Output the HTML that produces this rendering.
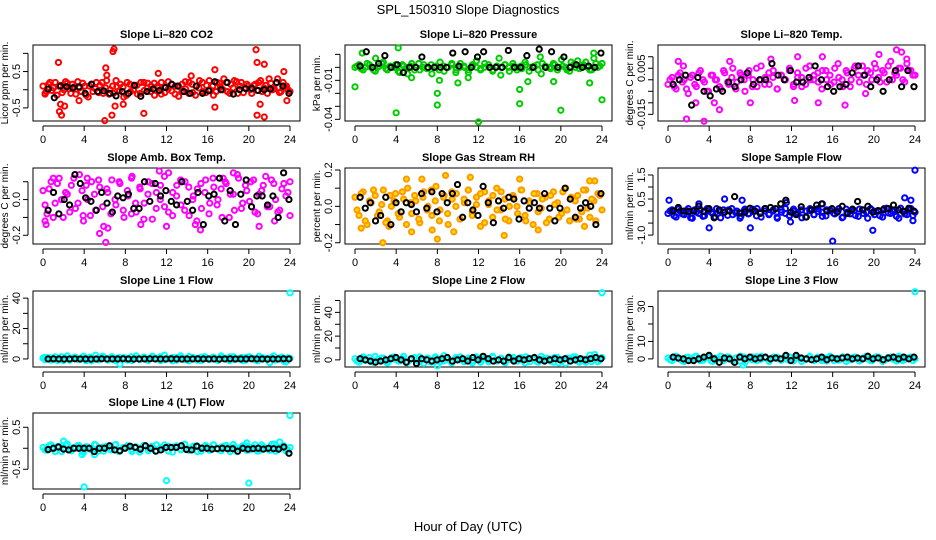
<!DOCTYPE html>
<html><head><meta charset="utf-8">
<style>
html,body{margin:0;padding:0;background:#fff;}
svg{display:block;font-family:"Liberation Sans",sans-serif;}
</style></head>
<body>
<svg id="chart" width="936" height="540" viewBox="0 0 936 540">
<text x="468" y="14" text-anchor="middle" font-size="13">SPL_150310  Slope Diagnostics</text>
<text x="468" y="531" text-anchor="middle" font-size="13">Hour of Day (UTC)</text>
<g id="panels"></g>
</svg>
<script>
// ---- data ----
const xTicks = [0,4,8,12,16,20,24];
const co2Col = [0.1,-0.05,0.2,0.05,-0.15,0.12,0.0,0.18,-0.1,0.08,0.22,-0.05,0.1,-0.2,0.15,0.03,-0.08,0.2,0.05,-0.12,0.1,0.25,-0.02,0.08,-0.15,0.15,0.0,0.12,-0.1,0.2,0.05,-0.05,0.18,0.1,-0.12,0.08,0.22,-0.03,0.1,-0.18,0.15,0.02,0.2,-0.08,0.1,0.25,-0.05,0.12,0.0,-0.15,0.2,0.08,0.3,-0.05,0.15,0.25,-0.1,0.2,0.05,0.1,-0.1,0.15,0.2,-0.05,0.12,0.3,0.0,0.18,-0.08,0.2,0.1,-0.05];
const co2ColB = [-0.1,0.15,-0.02,0.2,0.1,-0.08,0.22,0.02,0.15,-0.12,0.05,0.18,-0.15,0.1,-0.05,0.2,0.12,-0.1,0.25,0.0,-0.1,0.08,0.15,-0.2,0.2,-0.05,0.12,-0.12,0.2,-0.02,0.18,0.1,-0.15,0.05,0.2,-0.08,0.02,0.15,-0.12,0.1,-0.05,0.22,-0.1,0.15,-0.15,0.05,0.2,-0.08,0.25,0.1,-0.05,0.18,0.0,0.2,-0.1,0.05,0.22,0.1,-0.08,0.15,0.0,0.12,-0.02,0.25,0.05,-0.1,0.18,0.02,0.3,-0.05,0.1,0.0];
const co2Out = [[1.5,0.75],[1.6,-0.6],[1.8,-0.7],[1.7,-0.4],[2.1,-0.45],[6.0,-0.85],[6.1,0.6],[6.8,1.05],[6.9,1.12],[6.7,-0.7],[7.0,-0.45],[7.8,-0.4],[9.8,-0.65],[16.7,0.55],[16.7,-0.48],[20.7,1.1],[20.8,0.75],[20.8,-0.7],[21.5,-0.75],[21.5,0.7],[21.1,-0.4],[23.4,0.5],[23.7,-0.3],[3.5,-0.3],[11.2,0.45],[14.4,0.38],[0.2,-0.12],[6.2,0.4]];
const co2Blk = [0.02,-0.22,0.1,0.08,0.05,0.08,-0.1,0.15,-0.05,-0.03,-0.1,-0.17,-0.05,-0.1,0.12,-0.18,-0.05,0.02,-0.02,0.06,0.15,0.1,-0.05,-0.1,0.1,-0.1,-0.03,0.22,0.0,0.2,-0.12,0.0,0.03,0.04,-0.02,0.0,0.02,0.2,0.1,-0.1];
const presCol = [0.0,0.002,-0.002,0.003,0.0,-0.003,0.001,0.004,-0.002,0.0,0.002,-0.004,0.001,-0.005,0.003,0.0,-0.002,0.002,0.0,-0.005,0.001,0.004,-0.003,0.0,0.002,-0.002,0.003,0.0,-0.004,0.001,0.005,-0.002,0.0,0.002,-0.003,0.001,-0.006,0.002,0.0,0.003,-0.002,0.001,0.004,-0.003,0.0,0.002,-0.005,0.001,0.0,0.003,-0.002,0.006,0.0,-0.003,0.002,0.005,0.0,0.004,-0.002,0.007,0.0,0.003];
const presColB = [0.001,-0.001,0.0,0.002,-0.002,0.0,0.003,-0.001,0.001,0.0,-0.003,0.002,0.0,0.001,-0.002,0.003,0.0,-0.001,0.002,0.0,-0.002,0.001,0.0,0.003,-0.004,0.0,0.001,-0.002,0.002,0.0,-0.001,0.003,0.0,-0.002,0.001,0.0,0.002,-0.003,0.001,0.0,-0.001,0.002,0.0,0.001,-0.002,0.003,0.0,-0.001,0.002,0.0,0.001,-0.002,0.004,0.0,-0.001,0.002,0.0,-0.002,0.003,0.001];
const presOut = [[0,-0.015],[0.7,0.011],[4.2,0.015],[4.0,-0.035],[8.0,-0.02],[8.0,-0.029],[12,-0.042],[16,-0.017],[16,-0.028],[16.8,-0.011],[20,-0.033],[22.8,-0.012],[24,-0.025],[19.3,-0.011],[8.2,-0.01],[10,-0.012],[2,0.007],[14,0.007],[18,0.008],[23.2,0.011],[5.5,-0.008],[11,-0.008]];
const presBlk = [0.001,0.012,0.0,0.003,0.009,0.0,0.002,-0.004,0.0,0.0,0.008,0.0,0.0,0.0,0.0,0.011,0.001,0.012,0.0,0.008,0.012,0.0,0.0,0.0,0.013,0.0,0.0,0.009,0.0,0.014,0.0,0.012,0.0,0.008,0.0,0.002,0.0,0.001,0.0,0.011];
const tempCol = [-0.002,0.001,-0.004,0.003,0.0,-0.006,0.002,-0.003,0.004,-0.001,-0.005,0.002,0.0,-0.004,0.003,-0.002,0.005,-0.001,0.002,-0.005,0.004,0.0,-0.003,0.006,0.001,-0.002,0.004,-0.004,0.002,0.0,0.005,-0.003,0.003,0.001,-0.002,0.006,0.0,0.003,-0.004,0.004,0.002,-0.001,0.007,0.0,0.004,-0.003,0.005,0.002,0.006,-0.002,0.003,0.007,0.001,0.004,-0.001,0.008,0.003,0.005,0.0,0.007,0.004,0.002];
const tempColB = [0.0,-0.003,0.002,-0.001,-0.004,0.001,-0.002,0.003,0.0,-0.005,0.002,0.0,-0.003,0.004,-0.001,0.001,-0.004,0.003,0.0,0.002,-0.003,0.005,0.0,-0.002,0.003,0.001,-0.004,0.002,0.0,0.004,-0.002,0.001,-0.003,0.005,0.0,0.002,-0.001,0.004,0.0,-0.002,0.005,0.001,-0.003,0.003,0.0,0.006,-0.001,0.002,0.004,0.0,0.005,-0.001,0.003,0.006,0.0,0.002,0.005,-0.001,0.004,0.002];
const tempOut = [[1.8,-0.017],[3.5,-0.018],[5.0,-0.013],[1.0,0.008],[2.7,-0.01],[1.5,0.006],[4.5,-0.01],[6.0,0.008],[10.0,0.009],[12.6,0.01],[15.0,0.01],[17.2,-0.011],[19.2,-0.006],[22.2,0.013],[22.7,0.012],[20.5,0.011],[23.2,0.009],[12.3,-0.009],[14.6,-0.01],[8.0,-0.01]];
const tempBlk = [-0.002,0.0,0.002,-0.011,0.001,-0.005,-0.007,-0.004,-0.005,-0.001,-0.003,0.0,0.003,-0.002,0.0,0.0,0.007,0.002,0.0,0.004,-0.001,-0.001,0.001,0.006,0.0,-0.003,-0.005,-0.003,-0.002,0.003,0.006,0.002,-0.003,0.0,-0.005,0.0,0.004,-0.003,0.004,-0.003];
const ambCol = [0.05,-0.08,0.1,-0.02,0.12,-0.1,0.03,0.08,-0.05,0.14,-0.12,0.0,0.1,-0.06,0.07,-0.15,0.04,0.11,-0.03,0.09,-0.1,0.02,0.13,-0.07,0.06,-0.02,0.1,-0.11,0.04,0.08,-0.04,0.15,-0.09,0.02,0.11,-0.06,0.07,0.0,-0.12,0.09,0.04,-0.08,0.12,-0.03,0.06,0.1,-0.1,0.03,0.14,-0.05,0.08,-0.01,0.11,-0.08,0.05,0.13,-0.04,0.09,-0.07,0.06,0.02,-0.09];
const ambColB = [-0.03,0.06,-0.1,0.09,0.0,0.04,-0.07,0.12,-0.02,0.05,0.08,-0.09,0.03,0.11,-0.04,0.06,-0.08,0.0,0.1,-0.06,0.05,0.12,-0.02,0.07,-0.11,0.03,0.09,-0.05,0.0,0.13,-0.07,0.04,0.08,-0.03,0.1,-0.09,0.02,0.06,-0.05,0.11,-0.02,0.07,0.0,-0.1,0.09,0.03,-0.06,0.12,-0.02,0.05,0.1,-0.07,0.03,0.08,-0.04,0.11,0.0,-0.06,0.09,0.04];
const ambOut = [[0.2,-0.12],[0.3,-0.14],[1.0,0.12],[5.5,-0.19],[6.1,-0.24],[6.3,-0.16],[9.5,-0.14],[11.3,0.16],[12.0,-0.15],[14.8,-0.14],[15.3,-0.17],[17.5,0.12],[18.5,0.15],[21.0,-0.15],[22.5,-0.12],[24,0.1],[4.3,0.12],[3.9,-0.09],[8.6,-0.08]];
const ambBlk = [-0.06,0.04,-0.08,0.0,-0.03,0.14,0.09,0.01,-0.01,-0.06,0.04,-0.02,-0.07,0.02,0.01,0.03,-0.05,-0.05,0.1,-0.01,0.09,0.02,0.05,-0.01,-0.03,0.1,-0.01,-0.06,0.04,-0.14,0.02,0.03,0.12,-0.12,0.05,-0.14,0.03,0.11,-0.04,0.02,0.02,-0.03,0.02,-0.1,0.15,0.0];
const rhCol = [0.05,-0.05,0.08,-0.1,0.02,0.06,-0.03,0.09,-0.08,0.0,0.07,-0.06,0.04,0.1,-0.04,0.03,-0.09,0.08,0.0,-0.05,0.11,-0.02,0.06,-0.1,0.04,0.07,-0.07,0.02,0.09,-0.03,0.05,-0.11,0.08,0.01,-0.06,0.1,-0.02,0.04,-0.08,0.06,0.0,0.09,-0.05,0.03,-0.1,0.07,-0.01,0.05,-0.07,0.08,0.02,-0.04,0.1,-0.08,0.04,0.06,-0.03,0.09,-0.06,0.03,0.07,-0.02];
const rhColB = [-0.02,0.07,-0.08,0.03,0.09,-0.05,0.01,-0.09,0.06,0.03,-0.04,0.08,-0.1,0.02,0.06,-0.07,0.05,-0.02,0.09,0.03,-0.08,0.05,-0.04,0.08,0.0,-0.07,0.04,0.09,-0.05,0.01,0.07,-0.09,0.03,0.06,-0.02,0.08,-0.07,0.0,0.05,-0.04,0.09,-0.08,0.02,0.07,-0.03,0.04,-0.09,0.06,0.01,-0.06,0.08,-0.02,0.05,0.03,-0.07,0.09,-0.01,0.04,-0.08,0.06];
const rhOut = [[0.6,-0.12],[2.7,-0.2],[3.3,-0.11],[5.0,0.15],[5.5,-0.14],[6.5,0.15],[7.5,-0.13],[8.0,-0.18],[8.8,0.17],[9.6,-0.14],[11.2,0.16],[14.5,-0.16],[16.0,0.15],[17.8,-0.13],[21.5,-0.07],[22.3,-0.11],[22.8,0.14],[23.3,0.14]];
const rhBlk = [0.05,-0.01,0.02,-0.08,-0.05,0.05,-0.1,0.02,-0.03,0.02,0.01,-0.03,0.07,-0.01,0.08,-0.03,0.07,0.02,0.07,0.12,-0.06,0.02,-0.02,-0.05,0.11,0.02,-0.09,0.03,-0.01,0.05,0.04,-0.07,0.03,-0.01,0.02,-0.01,0.07,-0.01,-0.08,-0.01,0.1,0.04,-0.06,-0.01,0.02,0.0,-0.1,0.07];
const flowCol = [-0.1,0.05,-0.25,0.0,-0.15,0.1,-0.3,-0.05,0.05,-0.2,0.0,-0.1,0.1,-0.28,-0.05,0.05,-0.15,0.0,-0.22,0.08,-0.1,-0.02,0.1,-0.25,0.0,-0.12,0.05,-0.3,-0.05,0.1,-0.18,0.0,-0.1,0.05,-0.25,0.02,-0.15,0.1,-0.05,-0.2,0.05,-0.1,0.0,-0.28,0.08,-0.12,0.02,-0.22,0.05,-0.05,0.1,-0.15,0.0,-0.25,0.12,-0.1,0.05,-0.3,0.0,-0.15,0.1,-0.05];
const flowColB = [0.0,-0.2,0.08,-0.12,0.02,-0.28,0.05,-0.1,-0.22,0.1,-0.05,-0.25,0.0,0.05,-0.18,0.1,-0.08,-0.3,0.02,-0.12,0.08,-0.2,-0.05,0.1,-0.15,0.0,-0.25,0.05,-0.1,-0.2,0.08,-0.05,-0.28,0.0,0.1,-0.15,-0.02,-0.22,0.05,0.0,-0.12,0.1,-0.25,-0.05,0.02,-0.18,0.08,-0.1,-0.3,0.05,-0.02,-0.2,0.1,-0.08,0.0,-0.22,0.12,-0.12,0.05,-0.18];
const flowOut = [[0.1,0.45],[4.0,-0.7],[5.5,0.5],[7.2,0.45],[8.0,-0.7],[11.9,-0.45],[16.0,-1.25],[19.9,-0.8],[23.0,0.55],[23.8,-0.4],[24,1.7],[23.6,0.45],[11.5,0.35],[3.0,0.3],[15.0,0.3]];
const flowBlk = [0.0,0.15,0.0,-0.02,0.0,0.2,-0.02,0.1,-0.28,0.05,-0.05,0.0,0.6,-0.08,-0.05,0.12,0.0,-0.1,0.1,0.15,0.1,0.3,0.45,-0.05,-0.15,0.18,-0.25,0.05,0.25,0.3,0.0,0.1,-0.05,0.2,-0.1,0.08,0.4,0.05,0.2,-0.05,0.02,0.05,0.1,0.25,0.05,-0.02,0.12,0.0];
const l1Col = [0.5,1.0,-0.8,1.5,0.2,-1.0,2.0,0.0,1.2,-0.5,1.8,0.5,-1.2,2.5,0.0,1.0,-0.8,1.5,0.3,-3.5,1.0,0.5,-1.0,2.0,0.0,1.2,-0.5,1.8,0.5,-1.0,2.5,0.0,1.0,-0.8,2.0,0.3,-1.2,1.0,0.5,-1.0,1.5,0.0,1.2,-0.5,2.0,0.5,-1.0,1.5,0.0,1.0,-0.8,1.5,0.3,-1.2,1.0,0.5,-2.5,2.0,0.0,1.2,-2.0,0.5];
const l1ColB = [-0.5,0.8,0.0,-1.0,1.5,0.2,-0.8,1.0,-0.3,0.5,-1.2,1.2,0.0,-0.6,1.8,-0.2,0.6,-1.0,1.0,0.0,-0.8,1.5,0.3,-0.5,1.2,-1.0,0.4,0.0,1.5,-0.6,0.2,-1.2,1.0,0.5,-0.4,1.6,0.0,-0.8,1.2,0.3,-0.5,1.0,-1.0,0.6,0.0,1.4,-0.4,0.2,-1.0,1.2,0.5,-0.6,1.8,0.0,-0.4,1.0,-0.8,0.6,-1.5,0.8];
const l1Out = [[24,43.5],[0.1,1.0],[0.3,0.5]];
const l1Blk = [0.0,0.1,0.0,-0.1,0.0,0.1,0.0,0.0,-0.1,0.0,0.1,0.0,0.0,0.0,0.1,0.0,-0.1,0.0,0.0,0.1,0.0,0.0,0.0,0.1,0.0,-0.1,0.0,0.0,0.1,0.0,0.0,0.0,-0.1,0.0,0.1,0.0,0.0,0.0,0.1,0.0,0.0,-0.1,0.0,0.0,0.1,0.0];
const l2Col = [1.0,-2.0,2.5,0.0,-1.5,3.0,-0.5,1.5,-2.5,2.0,0.5,-1.0,3.0,-2.0,1.0,0.0,2.5,-3.0,1.5,-0.5,2.0,-1.5,3.5,0.0,-2.0,1.0,2.5,-1.0,0.5,-2.5,2.0,0.0,1.5,-1.5,3.0,-0.5,1.0,-2.0,2.5,0.0,-1.0,2.0,-2.5,1.5,0.5,-1.5,3.0,-0.5,1.0,-2.0,2.0,0.0,-3.0,1.5,2.5,-1.0,0.5,-2.0,4.0,0.0,-1.5,2.0];
const l2ColB = [-1.0,1.5,-0.5,2.0,-2.0,0.5,1.5,-1.5,0.0,2.5,-1.0,1.0,-2.5,0.5,2.0,-1.5,0.0,1.5,-2.0,2.5,0.5,-1.0,1.0,-2.5,2.0,0.0,-1.5,1.5,-0.5,2.5,-2.0,1.0,0.0,2.0,-1.0,1.5,-2.5,0.5,2.0,-1.0,0.0,2.5,-1.5,1.0,-2.0,0.5,1.5,-1.0,2.0,-2.5,0.0,1.5,-1.0,2.5,-2.0,0.5,1.0,-1.5,2.0,0.0];
const l2Out = [[24,56.5],[8.0,-5.0],[23.3,4.5]];
const l2Blk = [1.0,0.0,-1.0,-2.0,-1.0,0.0,1.0,2.0,0.0,-2.0,1.0,-3.0,1.0,0.0,-1.0,0.0,1.0,2.0,-1.0,0.0,1.0,-1.0,2.0,0.0,3.0,1.0,-1.0,0.0,-1.0,2.0,-1.0,1.0,0.0,1.0,2.0,0.0,-1.0,0.0,1.0,0.0,1.0,-1.0,0.0,1.0,0.0,1.0,2.0,1.0];
const l3Col = [0.5,-1.0,1.5,0.0,-1.5,1.0,-0.5,1.5,-1.0,0.5,1.0,-1.5,0.0,1.5,-0.5,1.0,-1.0,0.5,1.5,-2.0,0.0,1.0,-1.0,1.5,0.5,-1.5,1.0,0.0,-0.5,1.5,-1.0,0.5,1.0,-1.5,0.0,1.5,-0.5,1.0,-1.0,0.5,1.5,-1.0,0.0,1.0,-1.5,0.5,1.0,-0.5,0.0,1.5,-1.0,0.5,1.0,-1.5,0.0,1.0,-0.5,1.5,-1.0,0.5,1.0,0.0];
const l3ColB = [-0.5,1.0,0.0,-1.2,0.8,-0.3,1.2,0.0,-0.8,1.0,-1.2,0.5,0.0,-1.0,1.2,-0.5,0.6,-1.4,1.0,0.0,-0.6,1.2,-0.3,0.8,-1.0,0.4,1.0,-0.8,0.0,1.2,-1.2,0.6,0.0,-0.5,1.0,-1.0,0.8,0.0,-1.2,1.0,0.3,-0.8,1.2,0.0,-0.5,1.0,-1.2,0.6,0.0,-1.0,1.2,0.4,-0.8,0.8,0.0,-1.2,1.0,-0.4,0.5,-1.0];
const l3Out = [[24,38.5],[7.3,-3.5],[4.0,2.0]];
const l3Blk = [1.0,0.5,0.0,-1.0,-1.0,0.0,1.0,2.0,0.0,-2.0,0.5,0.0,-2.0,1.0,0.0,1.0,0.0,0.5,1.0,0.0,0.5,0.0,2.0,-1.0,2.0,0.5,0.0,-0.5,0.0,1.0,-0.5,0.5,0.0,0.5,1.0,0.0,0.5,0.0,1.5,0.0,0.5,-0.5,0.5,1.0,0.0,1.0,0.0,1.0];
const l4Col = [0.02,-0.05,0.08,-0.08,0.04,-0.02,0.1,-0.06,0.0,0.06,-0.1,0.03,-0.04,0.08,0.0,-0.07,0.05,-0.02,0.09,-0.05,0.01,0.06,-0.08,0.03,-0.03,0.07,-0.06,0.02,0.08,-0.04,0.0,0.05,-0.09,0.04,-0.02,0.1,-0.05,0.02,0.06,-0.07,0.03,-0.03,0.08,0.0,-0.06,0.05,-0.02,0.09,-0.08,0.03,0.06,-0.04,0.02,-0.07,0.08,0.0,-0.05,0.1,-0.03,0.04,-0.06,0.02];
const l4ColB = [-0.04,0.06,-0.02,0.04,-0.08,0.08,-0.03,0.02,0.07,-0.06,0.04,-0.01,0.09,-0.07,0.03,0.05,-0.04,0.08,-0.08,0.02,0.06,-0.03,0.04,-0.09,0.07,0.0,0.05,-0.06,0.02,0.08,-0.07,0.03,0.06,-0.04,0.09,-0.02,0.05,-0.08,0.01,0.07,-0.05,0.08,-0.02,0.04,0.07,-0.08,0.03,0.0,0.06,-0.05,0.02,0.08,-0.06,0.04,-0.02,0.09,-0.07,0.03,0.06,-0.04];
const l4Out = [[4.0,-0.92],[12.0,-0.77],[20.0,-0.83],[24,0.78],[2.0,0.17],[3.8,-0.15],[5.0,-0.15],[23.0,0.15],[19.8,0.13]];
const l4Blk = [-0.03,0.0,0.03,-0.02,-0.04,0.0,0.0,0.0,0.0,-0.08,0.0,0.0,0.06,-0.04,-0.06,0.0,0.05,0.02,-0.02,0.06,0.0,-0.07,-0.04,0.02,0.02,0.02,0.06,-0.03,-0.04,0.05,0.0,0.0,-0.02,-0.01,0.0,-0.01,-0.01,-0.07,0.0,-0.02,-0.01,0.0,-0.02,0.0,-0.01,-0.02,0.03,-0.12];

const L=[33,345,658], T=[45,168,291,413], W=267, H=76;
const panels = [
 {title:"Slope Li\u2013820 CO2", ylab:"Licor ppm per min.", col:"#ff0000", c:0,r:0, dom:[-0.86,1.23], ticks:[-0.5,0,0.5,1], labs:[-0.5,0.5], lf:v=>String(v), data:co2Col, dataB:co2ColB, out:co2Out, blk:co2Blk},
 {title:"Slope Li\u2013820 Pressure", ylab:"kPa per min.", col:"#00cc00", c:1,r:0, dom:[-0.0413,0.0172], ticks:[0.01,0,-0.01,-0.02,-0.03,-0.04], labs:[-0.01,-0.04], lf:v=>v.toFixed(2), data:presCol, dataB:presColB, out:presOut, blk:presBlk},
 {title:"Slope Li\u2013820 Temp.", ylab:"degrees C per min.", col:"#ff00ff", c:2,r:0, dom:[-0.0179,0.0151], ticks:[0.01,0.005,0,-0.005,-0.01,-0.015], labs:[0.005,-0.015], lf:v=>v.toFixed(3), data:tempCol, dataB:tempColB, out:tempOut, blk:tempBlk},
 {title:"Slope Amb. Box Temp.", ylab:"degrees C per min.", col:"#ff00ff", c:0,r:1, dom:[-0.249,0.177], ticks:[0.1,0,-0.1,-0.2], labs:[0,-0.2], lf:v=>v.toFixed(1), data:ambCol, dataB:ambColB, out:ambOut, blk:ambBlk},
 {title:"Slope Gas Stream RH", ylab:"percent per min.", col:"#ff9900", fill:"#ffdd00", c:1,r:1, dom:[-0.207,0.211], ticks:[0.2,0.1,0,-0.1,-0.2], labs:[0.2,0,-0.2], lf:v=>v.toFixed(1), data:rhCol, dataB:rhColB, out:rhOut, blk:rhBlk},
 {title:"Slope Sample Flow", ylab:"ml/min per min.", col:"#0000ff", c:2,r:1, dom:[-1.37,1.79], ticks:[1.5,1,0.5,0,-0.5,-1], labs:[1.5,0.5,-1], lf:v=>v.toFixed(1), data:flowCol, dataB:flowColB, out:flowOut, blk:flowBlk},
 {title:"Slope Line 1 Flow", ylab:"ml/min per min.", col:"#00ffff", c:0,r:2, dom:[-5.3,44.7], ticks:[40,30,20,10,0], labs:[40,20,0], lf:v=>String(v), data:l1Col, dataB:l1ColB, out:l1Out, blk:l1Blk},
 {title:"Slope Line 2 Flow", ylab:"ml/min per min.", col:"#00ffff", c:1,r:2, dom:[-6,58], ticks:[50,40,30,20,10,0], labs:[40,20,0], lf:v=>String(v), data:l2Col, dataB:l2ColB, out:l2Out, blk:l2Blk},
 {title:"Slope Line 3 Flow", ylab:"ml/min per min.", col:"#00ffff", c:2,r:2, dom:[-4.65,38.9], ticks:[30,20,10,0], labs:[30,10,0], lf:v=>String(v), data:l3Col, dataB:l3ColB, out:l3Out, blk:l3Blk},
 {title:"Slope Line 4 (LT) Flow", ylab:"ml/min per min.", col:"#00ffff", c:0,r:3, dom:[-0.97,0.84], ticks:[0.5,0,-0.5], labs:[0.5,-0.5], lf:v=>v.toFixed(1), data:l4Col, dataB:l4ColB, out:l4Out, blk:l4Blk}
];
const NS="http://www.w3.org/2000/svg";
const root=document.getElementById('panels');
function mk(tag,attrs,parent){const e=document.createElementNS(NS,tag);for(const k in attrs)e.setAttribute(k,attrs[k]);parent.appendChild(e);return e;}
panels.forEach((p,i)=>{
  const x0=L[p.c], y0=T[p.r], bot=y0+H;
  const sx=h=>x0+10+h/24*(W-20);
  const sy=v=>bot-(v-p.dom[0])/(p.dom[1]-p.dom[0])*H;
  const g=mk('g',{},root);
  
  
  const t=mk('text',{x:x0+W/2,y:y0-7,'text-anchor':'middle','font-size':11,'font-weight':'bold'},g);
  t.textContent=p.title;
  
  
  const box=mk('rect',{x:x0,y:y0,width:W,height:H,fill:'none',stroke:'#000','stroke-width':1},g);
  
  
  const xa=mk('g',{},g);
  
  
  mk('line',{x1:sx(0),x2:sx(24),y1:bot+5,y2:bot+5,stroke:'#000'},xa);
  xTicks.forEach(h=>{
    mk('line',{x1:sx(h),x2:sx(h),y1:bot+5,y2:bot+10,stroke:'#000'},xa);
    const tl=mk('text',{x:sx(h),y:bot+22,'text-anchor':'middle','font-size':11},xa);
    tl.textContent=h;
    
    
  });
  const ya=mk('g',{},g);
  
  
  const tv=p.ticks.map(sy);
  mk('line',{x1:x0-5,x2:x0-5,y1:Math.min(...tv),y2:Math.max(...tv),stroke:'#000'},ya);
  p.ticks.forEach(v=>mk('line',{x1:x0-10,x2:x0-5,y1:sy(v),y2:sy(v),stroke:'#000'},ya));
  p.labs.forEach(v=>{
    const tl=mk('text',{x:0,y:0,'text-anchor':'middle','font-size':11,transform:`translate(${x0-13},${sy(v)}) rotate(-90)`},ya);
    tl.textContent=p.lf(v);
    
    
  });
  const yt=mk('text',{x:0,y:0,'text-anchor':'middle','font-size':10,transform:`translate(${x0-25},${y0+H/2}) rotate(-90)`},g);
  yt.textContent=p.ylab;
  
  
  const pts=mk('g',{fill:p.fill||'none',stroke:p.col,'stroke-width':2},g);
  
  
  const n=p.data.length;
  p.data.forEach((v,k)=>{
    const c=mk('circle',{cx:sx(k*24/(n-1)),cy:sy(v),r:2.6},pts);
    
    
  });
  const nb=p.dataB.length;
  p.dataB.forEach((v,k)=>{
    const c=mk('circle',{cx:sx(0.2+k*23.6/(nb-1)),cy:sy(v),r:2.6},pts);
    
    
  });
  p.out.forEach(d=>{
    const c=mk('circle',{cx:sx(d[0]),cy:sy(d[1]),r:2.6},pts);
    
    
  });
  const bp=mk('g',{fill:'none',stroke:'#000','stroke-width':2},g);
  
  
  const m=p.blk.length;
  p.blk.forEach((v,k)=>{
    const c=mk('circle',{cx:sx(0.5+k*23.4/(m-1)),cy:sy(v),r:2.6},bp);
    
    
  });
});
</script>
</body></html>
